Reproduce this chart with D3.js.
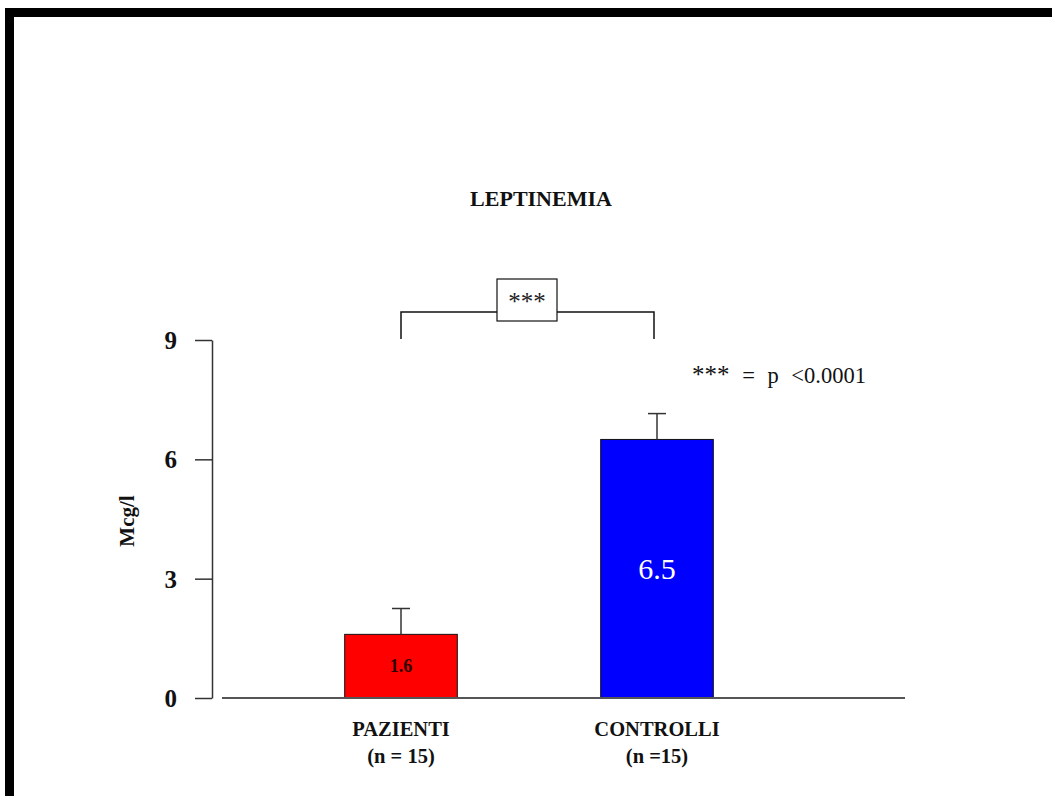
<!DOCTYPE html>
<html>
<head>
<meta charset="utf-8">
<script src="https://cdn.jsdelivr.net/npm/d3@7"></script>
<style>
  html, body { margin: 0; padding: 0; background: #fff; }
  svg { display: block; }
  text { font-family: "Liberation Serif", "Times New Roman", serif; }
</style>
</head>
<body>
<svg id="chart" width="1052" height="796"></svg>
<script>
// Leptin levels, patients vs controls
const categories = ["PAZIENTI", "CONTROLLI"];
const groupSizes = ["(n = 15)", "(n =15)"];
const means = [1.6, 6.5];
const errors = [0.65, 0.65];
const valueLabels = ["1.6", "6.5"];
const barColors = ["#ff0000", "#0000ff"];
const yTicks = [0, 3, 6, 9];

const svg = d3.select("#chart");

// frame bands along the top and left edges
svg.append("rect").attr("x", 5).attr("y", 8).attr("width", 1047).attr("height", 9).attr("fill", "#000");
svg.append("rect").attr("x", 5).attr("y", 8).attr("width", 9).attr("height", 788).attr("fill", "#000");

const y = d3.scaleLinear().domain([0, 9]).range([698, 340]);
const x = d3.scaleBand().domain(categories).range([273, 785]).paddingInner(0.56).paddingOuter(0.28);

// title
svg.append("text")
  .attr("x", 541).attr("y", 206)
  .attr("text-anchor", "middle")
  .attr("font-size", 22).attr("font-weight", "bold")
  .attr("fill", "#111")
  .text("LEPTINEMIA");

// y axis
const yAxis = d3.axisLeft(y).tickValues(yTicks).tickSize(17).tickPadding(18).tickSizeOuter(0);
const gy = svg.append("g").attr("transform", "translate(212,0)").call(yAxis);
gy.select(".domain").attr("stroke", "#333").attr("stroke-width", 1.5);
gy.selectAll(".tick line").attr("stroke", "#333").attr("stroke-width", 1.5);
gy.selectAll(".tick text")
  .attr("font-family", "Liberation Serif, serif")
  .attr("font-size", 25).attr("font-weight", "bold")
  .attr("fill", "#111")
  .attr("dy", "0.34em");

// y axis title
svg.append("text")
  .attr("transform", "translate(134,521) rotate(-90)")
  .attr("text-anchor", "middle")
  .attr("font-size", 21).attr("font-weight", "bold")
  .attr("fill", "#111")
  .text("Mcg/l");

// bars
const bars = categories.map((c, i) => ({ c, v: means[i], e: errors[i], color: barColors[i], label: valueLabels[i], n: groupSizes[i] }));

svg.selectAll("rect.bar").data(bars).join("rect")
  .attr("class", "bar")
  .attr("x", d => x(d.c))
  .attr("y", d => y(d.v))
  .attr("width", x.bandwidth())
  .attr("height", d => y(0) - y(d.v))
  .attr("fill", d => d.color)
  .attr("stroke", "#111").attr("stroke-width", 1);

// baseline
svg.append("line")
  .attr("x1", 222).attr("x2", 905)
  .attr("y1", y(0)).attr("y2", y(0))
  .attr("stroke", "#555").attr("stroke-width", 2);

// error bars (upper whisker only)
const cx = d => x(d.c) + x.bandwidth() / 2;
svg.selectAll("line.err").data(bars).join("line")
  .attr("class", "err")
  .attr("x1", cx).attr("x2", cx)
  .attr("y1", d => y(d.v)).attr("y2", d => y(d.v + d.e))
  .attr("stroke", "#333").attr("stroke-width", 1.5);
svg.selectAll("line.cap").data(bars).join("line")
  .attr("class", "cap")
  .attr("x1", d => cx(d) - 9).attr("x2", d => cx(d) + 9)
  .attr("y1", d => y(d.v + d.e)).attr("y2", d => y(d.v + d.e))
  .attr("stroke", "#333").attr("stroke-width", 1.5);

// value labels inside bars
svg.append("text")
  .attr("x", cx(bars[0])).attr("y", (y(bars[0].v) + y(0)) / 2)
  .attr("dy", "0.35em")
  .attr("text-anchor", "middle")
  .attr("font-size", 18).attr("font-weight", "bold")
  .attr("fill", "#2a0000")
  .text(bars[0].label);
svg.append("text")
  .attr("x", cx(bars[1])).attr("y", (y(bars[1].v) + y(0)) / 2)
  .attr("dy", "0.35em")
  .attr("text-anchor", "middle")
  .attr("font-size", 30)
  .attr("fill", "#fff")
  .text(bars[1].label);

// category labels
const cat = svg.selectAll("g.cat").data(bars).join("g").attr("class", "cat");
cat.append("text")
  .attr("x", cx).attr("y", 736)
  .attr("text-anchor", "middle")
  .attr("font-size", 20.5).attr("font-weight", "bold").attr("fill", "#111")
  .text(d => d.c);
cat.append("text")
  .attr("x", cx).attr("y", 763)
  .attr("text-anchor", "middle")
  .attr("font-size", 20.5).attr("font-weight", "bold").attr("fill", "#111")
  .text(d => d.n);

// significance bracket
const bY = y(9) - 28;
const legY = y(9) - 1;
const x1 = cx(bars[0]), x2 = cx(bars[1]) - 3;
svg.append("path")
  .attr("d", `M${x1},${legY}V${bY}H${x2}V${legY}`)
  .attr("fill", "none").attr("stroke", "#111").attr("stroke-width", 1.5);
svg.append("rect")
  .attr("x", 497).attr("y", 279).attr("width", 60).attr("height", 42)
  .attr("fill", "#fff").attr("stroke", "#111").attr("stroke-width", 1.2);
svg.append("text")
  .attr("x", 527).attr("y", 310)
  .attr("text-anchor", "middle")
  .attr("font-size", 25).attr("fill", "#222")
  .text("***");

// significance note
const note = svg.append("text")
  .attr("x", 692).attr("y", 383)
  .attr("fill", "#111");
note.append("tspan").attr("font-size", 25).text("***");
note.append("tspan").attr("font-size", 22.5).attr("word-spacing", 7).text(" = p <0.0001");
</script>
</body>
</html>
